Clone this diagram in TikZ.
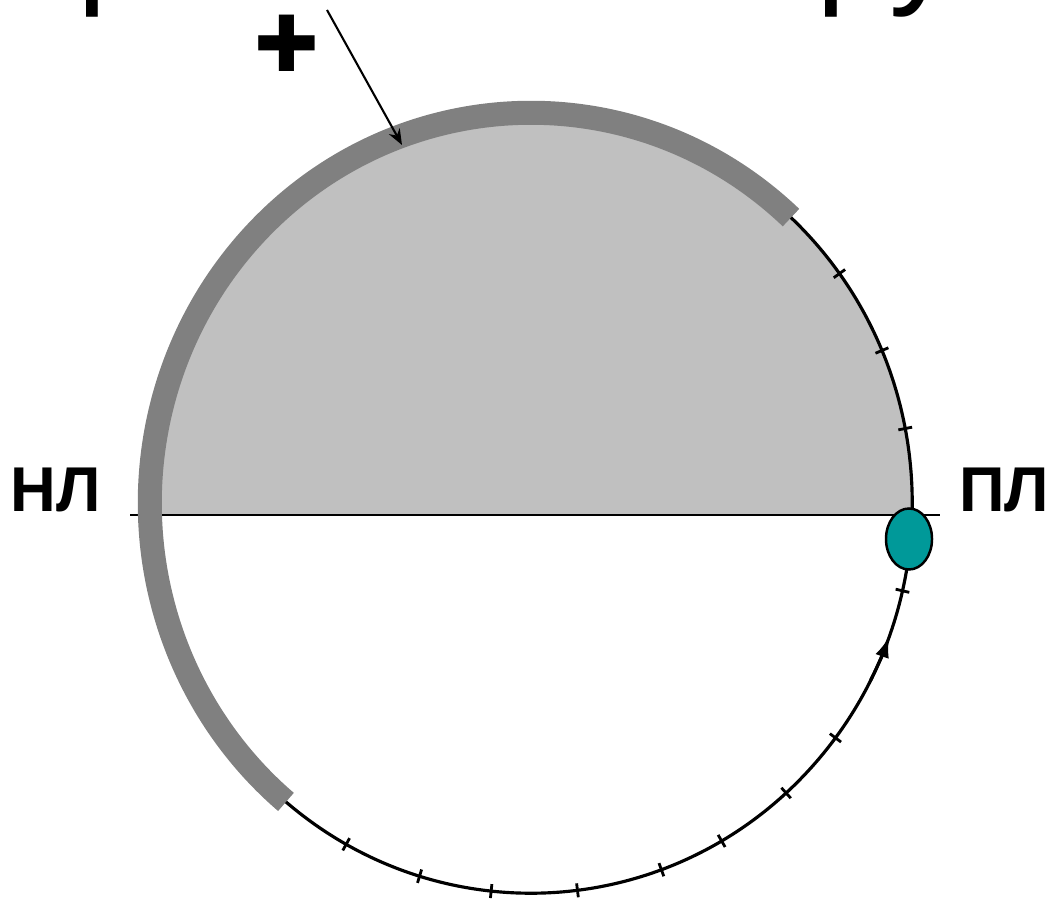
\documentclass[tikz,border=0pt]{standalone}
\usepackage{fontspec}
\setsansfont{Liberation Sans}
\newfontfamily\crossfont{DejaVu Sans}
\usetikzlibrary{arrows.meta, calc, shapes.geometric}
\definecolor{upperfill}{HTML}{C0C0C0}
\definecolor{bandgray}{HTML}{808080}
\definecolor{pointteal}{HTML}{009999}

\begin{document}
\begin{tikzpicture}[
    x=0.01cm, y=0.01cm,
    font=\sffamily,
    sidelabel/.style={font=\sffamily\bfseries\fontsize{18}{20}\selectfont, inner sep=0pt, anchor=base},
    titlepart/.style={font=\sffamily\fontsize{38}{42}\selectfont, inner sep=0pt, anchor=base west},
    band/.style={draw=bandgray, line width=0.24cm},
    rim/.style={draw=black, line width=0.9pt},
    ticks/.style={draw=black, line width=0.8pt},
    pointmark/.style={ellipse, draw=black, line width=0.7pt, fill=pointteal,
                      minimum width=0.46cm, minimum height=0.61cm, inner sep=0pt}
]
\useasboundingbox (0,0) rectangle (1049,912);
\coordinate (C) at (531,409);
\coordinate (hl) at (130,397);
\coordinate (hr) at (940,397);

\begin{scope}
    \clip (0,912) rectangle (1049,0);
    \node[titlepart] (ttlleft) at (77,922) {р};
    \node[titlepart] (ttlright) at (816,922) {ру};
\end{scope}

\begin{scope}
    \clip (100,397) rectangle (960,912);
    \fill[upperfill] (C) ellipse [x radius=3.81cm, y radius=3.90cm];
\end{scope}

\draw[line width=0.85pt] (hl) -- (hr);

\draw[band] ($(C)+(47:3.81cm and 3.90cm)$) arc[start angle=47, end angle=230, x radius=3.81cm, y radius=3.90cm];
\draw[rim] ($(C)+(47:3.81cm and 3.90cm)$) arc[start angle=47, end angle=-130, x radius=3.81cm, y radius=3.90cm];
\foreach \a in {36,23,11,-13,-37,-48,-60,-70,-83,-96,-107,-119}
    \draw[ticks] ($(C)+(\a:3.74cm and 3.83cm)$) -- ($(C)+(\a:3.88cm and 3.97cm)$);
\draw[rim, -{Latex[length=6pt, width=4pt]}] ($(C)+(-27:3.81cm and 3.90cm)$) arc[start angle=-27, end angle=-20, x radius=3.81cm, y radius=3.90cm];

\node[pointmark] (pt) at (909,373) {};

\node[sidelabel] (nl) at (56,400) {НЛ};
\node[sidelabel] (pl) at (1004,400) {ПЛ};

\node[inner sep=0pt] (plus) at (287,869) {\crossfont\fontsize{22}{24}\selectfont ✚};
\coordinate (arrstart) at (327,902);
\coordinate (arrend) at (402,767);
\draw[line width=0.6pt, -{Stealth[length=4.5pt, width=3.5pt]}] (arrstart) -- (arrend);

\end{tikzpicture}
\end{document}
